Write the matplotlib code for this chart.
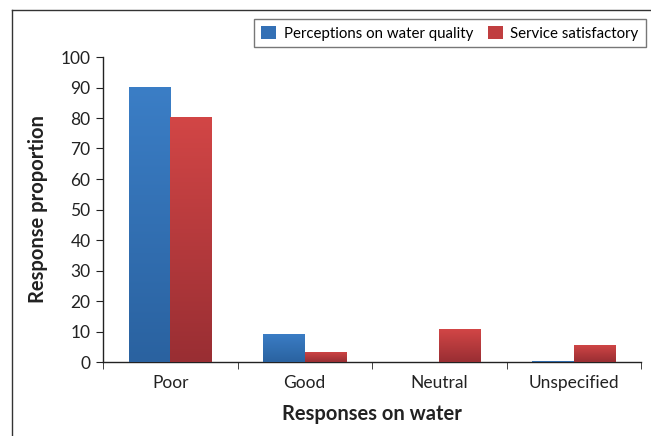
import numpy as np
import matplotlib
matplotlib.use("Agg")
import matplotlib.pyplot as plt
from matplotlib.colors import LinearSegmentedColormap
from matplotlib.lines import Line2D

categories = ["Poor", "Good", "Neutral", "Unspecified"]
water_quality = [90.3, 9.3, 0.0, 0.4]
service_satisfactory = [80.2, 3.3, 10.8, 5.7]
series_names = ["Perceptions on water quality", "Service satisfactory"]

plt.rcParams["font.family"] = ["Lato", "DejaVu Sans"]

fig = plt.figure(figsize=(6.51, 4.36), dpi=100)
ax = fig.add_axes([103 / 651, 1 - 362 / 436, (641 - 103) / 651, (362 - 57) / 436])

# outer frame (left and top edges)
fig.add_artist(Line2D([12 / 651, 12 / 651], [0, 1 - 10 / 436], transform=fig.transFigure,
                      color="#333333", lw=1.0))
fig.add_artist(Line2D([12 / 651, 1], [1 - 10 / 436, 1 - 10 / 436], transform=fig.transFigure,
                      color="#333333", lw=1.0))

x = np.arange(len(categories))
w = 0.31
blue_map = LinearSegmentedColormap.from_list("b", ["#2A62A0", "#3B7EC6"])
red_map = LinearSegmentedColormap.from_list("r", ["#992E33", "#D24646"])

def gradient_bars(xs, vals, cmap, color):
    bars = ax.bar(xs, vals, w, color=color, edgecolor="none", zorder=2)
    for b, v in zip(bars, vals):
        if v <= 0:
            continue
        x0 = b.get_x()
        grad = np.linspace(0, 1, 256).reshape(-1, 1)
        im = ax.imshow(grad, cmap=cmap, origin="lower", aspect="auto",
                       extent=[x0, x0 + w, 0, v], zorder=3)
        im.set_clip_path(b)
    return bars

h1 = gradient_bars(x - w / 2, water_quality, blue_map, "#3370B5")
h2 = gradient_bars(x + w / 2, service_satisfactory, red_map, "#C03E40")

ax.set_xlim(-0.5, len(categories) - 0.5)
ax.set_ylim(0, 100)
ax.set_yticks(np.arange(0, 101, 10))
ax.set_xticks(x)
ax.set_xticklabels(categories)
ax.set_xticks(np.arange(-0.5, len(categories), 1), minor=True)
ax.tick_params(axis="x", which="major", length=0, pad=9, labelsize=12.5, colors="#222222")
ax.tick_params(axis="x", which="minor", length=5, direction="out", color="#222222")
ax.tick_params(axis="y", length=5, direction="out", labelsize=12.5, colors="#222222", pad=4)

for s in ["top", "right"]:
    ax.spines[s].set_visible(False)
for s in ["left", "bottom"]:
    ax.spines[s].set_color("#222222")
    ax.spines[s].set_linewidth(1.0)

ax.set_xlabel("Responses on water", fontsize=14.5, fontweight="bold", labelpad=10, color="#222222")
ax.set_ylabel("Response proportion", fontsize=14.5, fontweight="bold", labelpad=9, color="#222222")

leg = fig.legend([h1, h2], series_names, loc="upper right",
                 bbox_to_anchor=(645.5 / 651, 1 - 19 / 436), ncol=2, frameon=True,
                 fancybox=False, edgecolor="#555555", fontsize=10.8,
                 handlelength=1.0, handleheight=1.0, handletextpad=0.5,
                 columnspacing=1.0, borderpad=0.45, borderaxespad=0)
leg.get_frame().set_linewidth(1.0)

fig.savefig("out.png", dpi=100, facecolor="white")
